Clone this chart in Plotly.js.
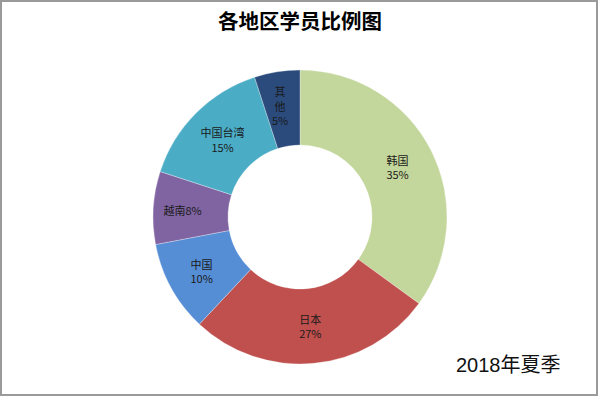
<!DOCTYPE html>
<html>
<head>
<meta charset="utf-8">
<script src="https://cdn.plot.ly/plotly-3.0.1.min.js"></script>
<style>
html,body{margin:0;padding:0;background:#fff;}
#chart{width:600px;height:397px;}
</style>
</head>
<body>
<div id="chart"></div>
<script>
const categories = ['韩国', '日本', '中国', '越南', '中国台湾', '其他'];
const values = [35, 27, 10, 8, 15, 5];
const colors = ['#C3D69B', '#C0504D', '#558ED5', '#8064A2', '#4BACC6', '#2A4B7C'];
const chartTitle = '各地区学员比例图';
const note = '2018年夏季';

// label layout per slice: 'stack' = two lines, 'inline' = one line, 'vertical' = one char per line
const labelStyle = ['stack', 'stack', 'stack', 'inline', 'stack', 'vertical'];
const templates = categories.map((c, i) => {
  if (labelStyle[i] === 'inline') return '%{label}%{percent:.0%}';
  // two empty leading lines nudge the narrow slice's label toward the ring middle
  if (labelStyle[i] === 'vertical') return '\u00a0<br>\u00a0<br>' + c.split('').join('<br>') + '<br>%{percent:.0%}';
  return '%{label}<br>%{percent:.0%}';
});

const H = 397, W = 600;
const cy = 217, R = 147;

const trace = {
  type: 'pie',
  labels: categories,
  values: values,
  sort: false,
  direction: 'clockwise',
  rotation: 0,
  hole: 0.49,
  marker: {colors: colors, line: {color: '#ffffff', width: 0.3}},
  texttemplate: templates,
  textposition: 'inside',
  insidetextorientation: 'horizontal',
  textfont: {family: '"Noto Sans CJK SC", sans-serif', size: 11, color: '#1a1a1a'},
  domain: {x: [0, 1], y: [1 - (cy + R) / H, 1 - (cy - R) / H]},
  showlegend: false,
  hoverinfo: 'label+percent'
};

const layout = {
  width: W, height: H,
  margin: {l: 0, r: 0, t: 0, b: 0},
  paper_bgcolor: '#ffffff',
  title: {
    text: '<b>' + chartTitle + '</b>',
    x: 0.5, xanchor: 'center',
    y: 1 - 22 / H, yanchor: 'middle',
    font: {family: '"Noto Sans CJK SC", sans-serif', size: 20.5, color: '#000'}
  },
  uniformtext: {minsize: 11, mode: 'show'},
  annotations: [{
    text: note, xref: 'paper', yref: 'paper',
    x: 563 / W, xanchor: 'right',
    y: 1 - 365 / H, yanchor: 'middle',
    showarrow: false,
    font: {family: '"Liberation Sans", "Noto Sans CJK SC", sans-serif', size: 20, color: '#111'}
  }],
  shapes: [{
    type: 'rect', xref: 'paper', yref: 'paper',
    x0: 1 / W, x1: 597 / W, y0: 1 - 395 / H, y1: 1 - 1 / H,
    line: {color: '#9a9a9a', width: 2}
  }]
};

Plotly.newPlot('chart', [trace], layout, {displayModeBar: false, staticPlot: true});
</script>
</body>
</html>
